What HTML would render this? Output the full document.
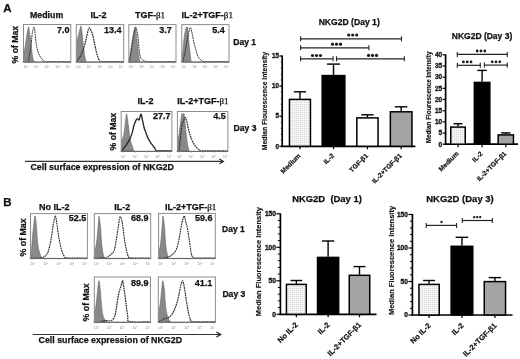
<!DOCTYPE html><html><head><meta charset="utf-8"><style>html,body{margin:0;padding:0;background:#fff;}svg{display:block;will-change:transform;}text{font-family:"Liberation Sans",sans-serif;}</style></head><body>
<svg width="520" height="359" viewBox="0 0 520 359">
<defs><pattern id="dots" width="2" height="2" patternUnits="userSpaceOnUse"><rect width="2" height="2" fill="#f5f5f5"/><rect width="1" height="1" fill="#d6d6d6"/></pattern></defs>
<g><rect width="520" height="359" fill="#fff"/>
<text x="3.2" y="12" font-size="11.5" font-weight="bold" text-anchor="start" fill="#111" stroke="#111" stroke-width="0.25">A</text>
<text x="3.2" y="206.3" font-size="11.5" font-weight="bold" text-anchor="start" fill="#111" stroke="#111" stroke-width="0.25">B</text>
<text x="30" y="17.9" font-size="8.8" font-weight="bold" text-anchor="start" fill="#111" stroke="#111" stroke-width="0.25">Medium</text>
<text x="90.5" y="17.9" font-size="9" font-weight="bold" text-anchor="start" fill="#111" stroke="#111" stroke-width="0.25">IL-2</text>
<text x="134.9" y="17.9" font-size="9" font-weight="bold" text-anchor="start" fill="#111" stroke="#111" stroke-width="0.25">TGF-<tspan font-family="'Liberation Serif', serif" font-weight="normal" font-size="9">β1</tspan></text>
<text x="181.6" y="17.9" font-size="9" font-weight="bold" text-anchor="start" fill="#111" stroke="#111" stroke-width="0.25">IL-2+TGF-<tspan font-family="'Liberation Serif', serif" font-weight="normal" font-size="9">β1</tspan></text>
<text transform="translate(18.3,63.5) rotate(-90)" font-size="8.7" font-weight="bold" fill="#111" stroke="#111" stroke-width="0.25">% of Max</text>
<clipPath id="c11"><rect x="23.5" y="24.5" width="47.3" height="37.7"/></clipPath>
<path clip-path="url(#c11)" d="M23.5,61.6 C23.5,60.8 23.2,59.5 23.5,56.83 C23.8,54.16 24.62,49.87 25.3,45.58 C25.98,41.29 27.03,34.2 27.6,31.09 C28.17,27.98 28.37,26.59 28.7,26.93 C29.03,27.27 29.27,30.95 29.6,33.11 C29.93,35.28 30.2,35.95 30.7,39.9 C31.2,43.86 32,53.21 32.6,56.83 C33.2,60.44 34.02,60.8 34.3,61.59 C34.58,62.39 34.3,61.6 34.3,61.6 Z" fill="#898989" stroke="#666" stroke-width="0.6"/>
<path clip-path="url(#c11)" d="M28.6,61.59 C28.7,60.8 28.82,59.5 29.2,56.83 C29.58,54.16 30.38,49.53 30.9,45.58 C31.42,41.63 31.9,35.95 32.3,33.11 C32.7,30.28 33.02,29.58 33.3,28.55 C33.58,27.52 33.78,26.93 34,26.93 C34.22,26.93 34.4,27.34 34.6,28.55 C34.8,29.77 34.88,31.39 35.2,34.23 C35.52,37.07 35.92,42.37 36.5,45.58 C37.08,48.79 37.87,51.32 38.7,53.48 C39.53,55.65 40.57,57.23 41.5,58.55 C42.43,59.87 43.38,60.88 44.3,61.39 C45.22,61.9 42.58,61.56 47,61.59 C51.42,61.63 66.83,61.59 70.8,61.59" fill="none" stroke="#282828" stroke-width="0.95" stroke-dasharray="1.8,0.7"/>
<rect x="23.5" y="24.5" width="47.3" height="37.7" fill="none" stroke="#8c8c8c" stroke-width="1"/>
<line x1="23.5" y1="62" x2="70.8" y2="62" stroke="#606060" stroke-width="1"/>
<text x="25.7" y="68.3" font-size="3.2" fill="#888" text-anchor="middle">10<tspan dy="-1.2" font-size="2.2">0</tspan></text>
<line x1="26.1" y1="62.2" x2="26.1" y2="63.4" stroke="#999" stroke-width="0.6"/>
<text x="36.33" y="68.3" font-size="3.2" fill="#888" text-anchor="middle">10<tspan dy="-1.2" font-size="2.2">1</tspan></text>
<line x1="36.73" y1="62.2" x2="36.73" y2="63.4" stroke="#999" stroke-width="0.6"/>
<text x="46.95" y="68.3" font-size="3.2" fill="#888" text-anchor="middle">10<tspan dy="-1.2" font-size="2.2">2</tspan></text>
<line x1="47.35" y1="62.2" x2="47.35" y2="63.4" stroke="#999" stroke-width="0.6"/>
<text x="57.58" y="68.3" font-size="3.2" fill="#888" text-anchor="middle">10<tspan dy="-1.2" font-size="2.2">3</tspan></text>
<line x1="57.98" y1="62.2" x2="57.98" y2="63.4" stroke="#999" stroke-width="0.6"/>
<text x="68.2" y="68.3" font-size="3.2" fill="#888" text-anchor="middle">10<tspan dy="-1.2" font-size="2.2">4</tspan></text>
<line x1="68.6" y1="62.2" x2="68.6" y2="63.4" stroke="#999" stroke-width="0.6"/>
<line x1="22" y1="61.7" x2="23" y2="61.7" stroke="#999" stroke-width="0.6"/>
<text x="69.4" y="32.9" font-size="9" font-weight="bold" text-anchor="end" fill="#111" stroke="#111" stroke-width="0.25">7.0</text>
<clipPath id="c28"><rect x="76.3" y="24.6" width="47.4" height="37.6"/></clipPath>
<path clip-path="url(#c28)" d="M76.3,61.6 C76.3,58.95 75.93,50.09 76.3,45.69 C76.67,41.29 77.83,38.14 78.5,35.2 C79.17,32.26 79.87,29.54 80.3,28.06 C80.73,26.59 80.78,25.3 81.1,26.33 C81.42,27.37 81.82,31.05 82.2,34.28 C82.58,37.51 82.97,42.09 83.4,45.69 C83.83,49.29 84.35,53.23 84.8,55.88 C85.25,58.53 85.88,60.64 86.1,61.59 C86.32,62.54 86.1,61.6 86.1,61.6 Z" fill="#898989" stroke="#666" stroke-width="0.6"/>
<path clip-path="url(#c28)" d="M76.7,60.67 C77.35,59.87 79.3,58.38 80.6,55.88 C81.9,53.39 83.48,48.9 84.5,45.69 C85.52,42.48 86.05,39.38 86.7,36.62 C87.35,33.87 87.93,30.61 88.4,29.19 C88.87,27.76 89.03,27.78 89.5,28.06 C89.97,28.35 90.65,29.68 91.2,30.92 C91.75,32.16 92.25,33.41 92.8,35.5 C93.35,37.59 93.93,40.8 94.5,43.45 C95.07,46.1 95.63,49.14 96.2,51.4 C96.77,53.66 97.25,55.34 97.9,57 C98.55,58.67 99.25,60.62 100.1,61.38 C100.95,62.15 99.07,61.55 103,61.59 C106.93,61.62 120.25,61.59 123.7,61.59" fill="none" stroke="#282828" stroke-width="1.2" stroke-dasharray="1.8,0.7"/>
<rect x="76.3" y="24.6" width="47.4" height="37.6" fill="none" stroke="#8c8c8c" stroke-width="1"/>
<line x1="76.3" y1="62" x2="123.7" y2="62" stroke="#606060" stroke-width="1"/>
<text x="78.5" y="68.3" font-size="3.2" fill="#888" text-anchor="middle">10<tspan dy="-1.2" font-size="2.2">0</tspan></text>
<line x1="78.9" y1="62.2" x2="78.9" y2="63.4" stroke="#999" stroke-width="0.6"/>
<text x="89.15" y="68.3" font-size="3.2" fill="#888" text-anchor="middle">10<tspan dy="-1.2" font-size="2.2">1</tspan></text>
<line x1="89.55" y1="62.2" x2="89.55" y2="63.4" stroke="#999" stroke-width="0.6"/>
<text x="99.8" y="68.3" font-size="3.2" fill="#888" text-anchor="middle">10<tspan dy="-1.2" font-size="2.2">2</tspan></text>
<line x1="100.2" y1="62.2" x2="100.2" y2="63.4" stroke="#999" stroke-width="0.6"/>
<text x="110.45" y="68.3" font-size="3.2" fill="#888" text-anchor="middle">10<tspan dy="-1.2" font-size="2.2">3</tspan></text>
<line x1="110.85" y1="62.2" x2="110.85" y2="63.4" stroke="#999" stroke-width="0.6"/>
<text x="121.1" y="68.3" font-size="3.2" fill="#888" text-anchor="middle">10<tspan dy="-1.2" font-size="2.2">4</tspan></text>
<line x1="121.5" y1="62.2" x2="121.5" y2="63.4" stroke="#999" stroke-width="0.6"/>
<line x1="74.8" y1="61.7" x2="75.8" y2="61.7" stroke="#999" stroke-width="0.6"/>
<text x="121.6" y="32.9" font-size="9" font-weight="bold" text-anchor="end" fill="#111" stroke="#111" stroke-width="0.25">13.4</text>
<clipPath id="c45"><rect x="128.8" y="24.6" width="47.2" height="37.6"/></clipPath>
<path clip-path="url(#c45)" d="M128.8,61.6 C128.8,61.45 128.63,61.44 128.8,60.67 C128.97,59.91 129.35,59.5 129.8,57 C130.25,54.51 130.83,49.84 131.5,45.69 C132.17,41.55 133.15,35.16 133.8,32.14 C134.45,29.12 134.87,26.25 135.4,27.56 C135.93,28.86 136.55,36.01 137,39.99 C137.45,43.96 137.63,47.8 138.1,51.4 C138.57,55 139.52,59.89 139.8,61.59 C140.08,63.29 139.8,61.6 139.8,61.6 Z" fill="#898989" stroke="#666" stroke-width="0.6"/>
<path clip-path="url(#c45)" d="M129.5,61.59 C129.78,59.74 130.53,54.88 131.2,50.48 C131.87,46.08 132.85,38.9 133.5,35.2 C134.15,31.5 134.7,29.59 135.1,28.27 C135.5,26.94 135.62,26.94 135.9,27.25 C136.18,27.56 136.43,28.35 136.8,30.1 C137.17,31.85 137.68,34.2 138.1,37.74 C138.52,41.29 138.83,47.99 139.3,51.4 C139.77,54.81 140.17,56.71 140.9,58.23 C141.63,59.74 142.3,59.91 143.7,60.47 C145.1,61.03 143.92,61.4 149.3,61.59 C154.68,61.78 171.55,61.59 176,61.59" fill="none" stroke="#282828" stroke-width="0.95" stroke-dasharray="1.8,0.7"/>
<rect x="128.8" y="24.6" width="47.2" height="37.6" fill="none" stroke="#8c8c8c" stroke-width="1"/>
<line x1="128.8" y1="62" x2="176" y2="62" stroke="#606060" stroke-width="1"/>
<text x="131" y="68.3" font-size="3.2" fill="#888" text-anchor="middle">10<tspan dy="-1.2" font-size="2.2">0</tspan></text>
<line x1="131.4" y1="62.2" x2="131.4" y2="63.4" stroke="#999" stroke-width="0.6"/>
<text x="141.6" y="68.3" font-size="3.2" fill="#888" text-anchor="middle">10<tspan dy="-1.2" font-size="2.2">1</tspan></text>
<line x1="142" y1="62.2" x2="142" y2="63.4" stroke="#999" stroke-width="0.6"/>
<text x="152.2" y="68.3" font-size="3.2" fill="#888" text-anchor="middle">10<tspan dy="-1.2" font-size="2.2">2</tspan></text>
<line x1="152.6" y1="62.2" x2="152.6" y2="63.4" stroke="#999" stroke-width="0.6"/>
<text x="162.8" y="68.3" font-size="3.2" fill="#888" text-anchor="middle">10<tspan dy="-1.2" font-size="2.2">3</tspan></text>
<line x1="163.2" y1="62.2" x2="163.2" y2="63.4" stroke="#999" stroke-width="0.6"/>
<text x="173.4" y="68.3" font-size="3.2" fill="#888" text-anchor="middle">10<tspan dy="-1.2" font-size="2.2">4</tspan></text>
<line x1="173.8" y1="62.2" x2="173.8" y2="63.4" stroke="#999" stroke-width="0.6"/>
<line x1="127.3" y1="61.7" x2="128.3" y2="61.7" stroke="#999" stroke-width="0.6"/>
<text x="171.8" y="32.9" font-size="9" font-weight="bold" text-anchor="end" fill="#111" stroke="#111" stroke-width="0.25">3.7</text>
<clipPath id="c62"><rect x="181.8" y="24.6" width="47.2" height="37.6"/></clipPath>
<path clip-path="url(#c62)" d="M181.8,61.6 C181.8,60.77 181.63,58.3 181.8,56.6 C181.97,54.9 182.45,54.17 182.8,51.4 C183.15,48.63 183.45,43.54 183.9,39.99 C184.35,36.44 185.03,32.28 185.5,30.1 C185.97,27.93 186.4,27.11 186.7,26.94 C187,26.77 187.12,28.98 187.3,29.08 C187.48,29.19 187.62,26.3 187.8,27.56 C187.98,28.81 188.12,33.23 188.4,36.62 C188.68,40.02 189.05,43.77 189.5,47.93 C189.95,52.1 190.83,59.31 191.1,61.59 C191.37,63.87 191.1,61.6 191.1,61.6 Z" fill="#898989" stroke="#666" stroke-width="0.6"/>
<path clip-path="url(#c62)" d="M183,61.59 C183.38,59.74 184.6,54.08 185.3,50.48 C186,46.88 186.6,43.06 187.2,39.99 C187.8,36.91 188.33,34.11 188.9,32.04 C189.47,29.97 190.03,27.18 190.6,27.56 C191.17,27.93 191.75,31.82 192.3,34.28 C192.85,36.74 193.35,39.87 193.9,42.33 C194.45,44.79 195.03,46.98 195.6,49.06 C196.17,51.13 196.65,53.15 197.3,54.76 C197.95,56.37 198.67,57.7 199.5,58.74 C200.33,59.77 201.37,60.5 202.3,60.98 C203.23,61.45 200.65,61.49 205.1,61.59 C209.55,61.69 225.02,61.59 229,61.59" fill="none" stroke="#282828" stroke-width="0.95" stroke-dasharray="1.8,0.7"/>
<rect x="181.8" y="24.6" width="47.2" height="37.6" fill="none" stroke="#8c8c8c" stroke-width="1"/>
<line x1="181.8" y1="62" x2="229" y2="62" stroke="#606060" stroke-width="1"/>
<text x="184" y="68.3" font-size="3.2" fill="#888" text-anchor="middle">10<tspan dy="-1.2" font-size="2.2">0</tspan></text>
<line x1="184.4" y1="62.2" x2="184.4" y2="63.4" stroke="#999" stroke-width="0.6"/>
<text x="194.6" y="68.3" font-size="3.2" fill="#888" text-anchor="middle">10<tspan dy="-1.2" font-size="2.2">1</tspan></text>
<line x1="195" y1="62.2" x2="195" y2="63.4" stroke="#999" stroke-width="0.6"/>
<text x="205.2" y="68.3" font-size="3.2" fill="#888" text-anchor="middle">10<tspan dy="-1.2" font-size="2.2">2</tspan></text>
<line x1="205.6" y1="62.2" x2="205.6" y2="63.4" stroke="#999" stroke-width="0.6"/>
<text x="215.8" y="68.3" font-size="3.2" fill="#888" text-anchor="middle">10<tspan dy="-1.2" font-size="2.2">3</tspan></text>
<line x1="216.2" y1="62.2" x2="216.2" y2="63.4" stroke="#999" stroke-width="0.6"/>
<text x="226.4" y="68.3" font-size="3.2" fill="#888" text-anchor="middle">10<tspan dy="-1.2" font-size="2.2">4</tspan></text>
<line x1="226.8" y1="62.2" x2="226.8" y2="63.4" stroke="#999" stroke-width="0.6"/>
<line x1="180.3" y1="61.7" x2="181.3" y2="61.7" stroke="#999" stroke-width="0.6"/>
<text x="224.8" y="32.9" font-size="9" font-weight="bold" text-anchor="end" fill="#111" stroke="#111" stroke-width="0.25">5.4</text>
<text x="233.2" y="45.1" font-size="8.6" font-weight="bold" text-anchor="start" fill="#111" stroke="#111" stroke-width="0.25">Day 1</text>
<text x="137.6" y="104.2" font-size="9" font-weight="bold" text-anchor="start" fill="#111" stroke="#111" stroke-width="0.25">IL-2</text>
<text x="177.2" y="104.2" font-size="9" font-weight="bold" text-anchor="start" fill="#111" stroke="#111" stroke-width="0.25">IL-2+TGF-<tspan font-family="'Liberation Serif', serif" font-weight="normal" font-size="9">β1</tspan></text>
<text transform="translate(115.6,150.5) rotate(-90)" font-size="8.7" font-weight="bold" fill="#111" stroke="#111" stroke-width="0.25">% of Max</text>
<clipPath id="c83"><rect x="121.2" y="111.5" width="50.7" height="40"/></clipPath>
<path clip-path="url(#c83)" d="M121.2,150.9 C121.2,149.49 120.8,145 121.2,142.46 C121.6,139.92 123,138.2 123.6,135.66 C124.2,133.12 124.42,130.16 124.8,127.24 C125.18,124.31 125.6,120.33 125.9,118.1 C126.2,115.87 126.28,113.33 126.6,113.84 C126.92,114.34 127.4,118.3 127.8,121.14 C128.2,123.99 128.6,127.85 129,130.89 C129.4,133.94 129.7,137 130.2,139.42 C130.7,141.84 131.4,143.5 132,145.41 C132.6,147.32 133.5,149.98 133.8,150.89 C134.1,151.81 133.8,150.9 133.8,150.9 Z" fill="#898989" stroke="#666" stroke-width="0.6"/>
<path clip-path="url(#c83)" d="M121.8,150.59 C122.5,149.72 124.7,147.27 126,145.41 C127.3,143.55 128.6,141.43 129.6,139.42 C130.6,137.41 131.3,135.56 132,133.33 C132.7,131.09 133.2,128.05 133.8,126.02 C134.4,123.99 135,122.36 135.6,121.14 C136.2,119.93 136.8,118.91 137.4,118.71 C138,118.51 138.7,120.54 139.2,119.93 C139.7,119.32 140.05,115.97 140.4,115.05 C140.75,114.14 141,113.84 141.3,114.44 C141.6,115.05 141.75,116.58 142.2,118.71 C142.65,120.84 143.42,125 144,127.24 C144.58,129.47 145.12,130.5 145.7,132.11 C146.28,133.72 146.9,135.48 147.5,136.88 C148.1,138.29 148.6,139.32 149.3,140.54 C150,141.75 150.8,142.97 151.7,144.19 C152.6,145.41 153.8,146.75 154.7,147.85 C155.6,148.95 154.23,150.28 157.1,150.79 C159.97,151.3 169.43,150.87 171.9,150.89" fill="none" stroke="#282828" stroke-width="1.35" stroke-dasharray="none"/>
<rect x="121.2" y="111.5" width="50.7" height="40" fill="none" stroke="#8c8c8c" stroke-width="1"/>
<line x1="121.2" y1="151.3" x2="171.9" y2="151.3" stroke="#606060" stroke-width="1"/>
<text x="123.4" y="157.6" font-size="3.2" fill="#888" text-anchor="middle">10<tspan dy="-1.2" font-size="2.2">0</tspan></text>
<line x1="123.8" y1="151.5" x2="123.8" y2="152.7" stroke="#999" stroke-width="0.6"/>
<text x="134.88" y="157.6" font-size="3.2" fill="#888" text-anchor="middle">10<tspan dy="-1.2" font-size="2.2">1</tspan></text>
<line x1="135.28" y1="151.5" x2="135.28" y2="152.7" stroke="#999" stroke-width="0.6"/>
<text x="146.35" y="157.6" font-size="3.2" fill="#888" text-anchor="middle">10<tspan dy="-1.2" font-size="2.2">2</tspan></text>
<line x1="146.75" y1="151.5" x2="146.75" y2="152.7" stroke="#999" stroke-width="0.6"/>
<text x="157.82" y="157.6" font-size="3.2" fill="#888" text-anchor="middle">10<tspan dy="-1.2" font-size="2.2">3</tspan></text>
<line x1="158.22" y1="151.5" x2="158.22" y2="152.7" stroke="#999" stroke-width="0.6"/>
<text x="169.3" y="157.6" font-size="3.2" fill="#888" text-anchor="middle">10<tspan dy="-1.2" font-size="2.2">4</tspan></text>
<line x1="169.7" y1="151.5" x2="169.7" y2="152.7" stroke="#999" stroke-width="0.6"/>
<line x1="119.7" y1="151" x2="120.7" y2="151" stroke="#999" stroke-width="0.6"/>
<text x="170.5" y="119.1" font-size="9" font-weight="bold" text-anchor="end" fill="#111" stroke="#111" stroke-width="0.25">27.7</text>
<clipPath id="c100"><rect x="177.4" y="111.5" width="50.5" height="40"/></clipPath>
<path clip-path="url(#c100)" d="M177.4,150.9 C177.4,149.53 177.1,145.6 177.4,142.7 C177.7,139.8 178.7,136.67 179.2,133.49 C179.7,130.32 180.02,126.57 180.4,123.67 C180.78,120.78 181.2,117.84 181.5,116.1 C181.8,114.36 181.93,113.24 182.2,113.24 C182.47,113.24 182.8,116.05 183.1,116.1 C183.4,116.15 183.65,112.28 184,113.55 C184.35,114.81 184.8,119.96 185.2,123.67 C185.6,127.39 186,132.39 186.4,135.85 C186.8,139.31 187.2,141.93 187.6,144.44 C188,146.95 188.6,149.81 188.8,150.89 C189,151.96 188.8,150.9 188.8,150.9 Z" fill="#898989" stroke="#666" stroke-width="0.6"/>
<path clip-path="url(#c100)" d="M179.2,149.86 C179.33,148.67 179.6,146.45 180,142.7 C180.4,138.95 181.03,130.94 181.6,127.36 C182.17,123.78 182.8,122.86 183.4,121.22 C184,119.58 184.7,117.74 185.2,117.54 C185.7,117.33 186,118.76 186.4,119.99 C186.8,121.22 187.2,123.16 187.6,124.9 C188,126.64 188.4,128.81 188.8,130.43 C189.2,132.05 189.5,133.09 190,134.62 C190.5,136.15 191.1,138 191.8,139.63 C192.5,141.27 193.3,143.03 194.2,144.44 C195.1,145.86 196.3,147.2 197.2,148.12 C198.1,149.04 198.72,149.51 199.6,149.97 C200.48,150.43 197.78,150.73 202.5,150.89 C207.22,151.04 223.67,150.89 227.9,150.89" fill="none" stroke="#282828" stroke-width="1.2" stroke-dasharray="1.8,0.7"/>
<rect x="177.4" y="111.5" width="50.5" height="40" fill="none" stroke="#8c8c8c" stroke-width="1"/>
<line x1="177.4" y1="151.3" x2="227.9" y2="151.3" stroke="#606060" stroke-width="1"/>
<text x="179.6" y="157.6" font-size="3.2" fill="#888" text-anchor="middle">10<tspan dy="-1.2" font-size="2.2">0</tspan></text>
<line x1="180" y1="151.5" x2="180" y2="152.7" stroke="#999" stroke-width="0.6"/>
<text x="191.03" y="157.6" font-size="3.2" fill="#888" text-anchor="middle">10<tspan dy="-1.2" font-size="2.2">1</tspan></text>
<line x1="191.43" y1="151.5" x2="191.43" y2="152.7" stroke="#999" stroke-width="0.6"/>
<text x="202.45" y="157.6" font-size="3.2" fill="#888" text-anchor="middle">10<tspan dy="-1.2" font-size="2.2">2</tspan></text>
<line x1="202.85" y1="151.5" x2="202.85" y2="152.7" stroke="#999" stroke-width="0.6"/>
<text x="213.88" y="157.6" font-size="3.2" fill="#888" text-anchor="middle">10<tspan dy="-1.2" font-size="2.2">3</tspan></text>
<line x1="214.28" y1="151.5" x2="214.28" y2="152.7" stroke="#999" stroke-width="0.6"/>
<text x="225.3" y="157.6" font-size="3.2" fill="#888" text-anchor="middle">10<tspan dy="-1.2" font-size="2.2">4</tspan></text>
<line x1="225.7" y1="151.5" x2="225.7" y2="152.7" stroke="#999" stroke-width="0.6"/>
<line x1="175.9" y1="151" x2="176.9" y2="151" stroke="#999" stroke-width="0.6"/>
<text x="225.8" y="119.1" font-size="9" font-weight="bold" text-anchor="end" fill="#111" stroke="#111" stroke-width="0.25">4.5</text>
<text x="233.5" y="130.8" font-size="8.6" font-weight="bold" text-anchor="start" fill="#111" stroke="#111" stroke-width="0.25">Day 3</text>
<line x1="25" y1="161.4" x2="223" y2="161.4" stroke="#333" stroke-width="1.1"/>
<path d="M219.4,159 L223.4,161.4 L219.4,163.8" fill="none" stroke="#222" stroke-width="1.2"/>
<text x="30.4" y="169.9" font-size="8.85" font-weight="bold" text-anchor="start" fill="#111" stroke="#111" stroke-width="0.25">Cell surface expression of NKG2D</text>
<text x="54.2" y="209.9" font-size="9" font-weight="bold" text-anchor="middle" fill="#111" stroke="#111" stroke-width="0.25">No IL-2</text>
<text x="122.2" y="209.9" font-size="9" font-weight="bold" text-anchor="middle" fill="#111" stroke="#111" stroke-width="0.25">IL-2</text>
<text x="164.9" y="209.6" font-size="9" font-weight="bold" text-anchor="start" fill="#111" stroke="#111" stroke-width="0.25">IL-2+TGF-<tspan font-family="'Liberation Serif', serif" font-weight="normal" font-size="9">β1</tspan></text>
<text transform="translate(26.2,256.5) rotate(-90)" font-size="8.8" font-weight="bold" fill="#111" stroke="#111" stroke-width="0.25">% of Max</text>
<clipPath id="c125"><rect x="30.5" y="213.6" width="56.9" height="45"/></clipPath>
<path clip-path="url(#c125)" d="M30.5,258 C30.5,257.36 30.35,255.35 30.5,254.18 C30.65,253.01 31.1,253.53 31.4,250.97 C31.7,248.4 31.92,243.06 32.3,238.81 C32.68,234.56 33.25,229.25 33.7,225.45 C34.15,221.65 34.55,216.01 35,216.01 C35.45,216.01 36.02,221.65 36.4,225.45 C36.78,229.25 36.97,235.01 37.3,238.81 C37.63,242.61 37.88,245.56 38.4,248.25 C38.92,250.95 39.85,253.36 40.4,254.98 C40.95,256.61 41.48,257.49 41.7,258 C41.92,258.5 41.7,258 41.7,258 Z" fill="#898989" stroke="#666" stroke-width="0.6"/>
<path clip-path="url(#c125)" d="M40,258 C40.83,257.71 43.6,257.46 45,256.29 C46.4,255.12 47.38,253.88 48.4,250.97 C49.42,248.05 50.32,243.06 51.1,238.81 C51.88,234.56 52.53,228.83 53.1,225.45 C53.67,222.07 54.13,220.15 54.5,218.52 C54.87,216.9 55.03,215.71 55.3,215.71 C55.57,215.71 55.8,216.9 56.1,218.52 C56.4,220.15 56.6,222.07 57.1,225.45 C57.6,228.83 58.32,234.56 59.1,238.81 C59.88,243.06 60.92,248.05 61.8,250.97 C62.68,253.88 63.52,255.13 64.4,256.29 C65.28,257.44 63.27,257.61 67.1,257.9 C70.93,258.18 84.02,257.98 87.4,258" fill="none" stroke="#282828" stroke-width="1.1" stroke-dasharray="1.8,0.7"/>
<rect x="30.5" y="213.6" width="56.9" height="45" fill="none" stroke="#8c8c8c" stroke-width="1"/>
<line x1="30.5" y1="258.4" x2="87.4" y2="258.4" stroke="#606060" stroke-width="1"/>
<text x="32.7" y="264.7" font-size="3.2" fill="#888" text-anchor="middle">10<tspan dy="-1.2" font-size="2.2">0</tspan></text>
<line x1="33.1" y1="258.6" x2="33.1" y2="259.8" stroke="#999" stroke-width="0.6"/>
<text x="45.73" y="264.7" font-size="3.2" fill="#888" text-anchor="middle">10<tspan dy="-1.2" font-size="2.2">1</tspan></text>
<line x1="46.12" y1="258.6" x2="46.12" y2="259.8" stroke="#999" stroke-width="0.6"/>
<text x="58.75" y="264.7" font-size="3.2" fill="#888" text-anchor="middle">10<tspan dy="-1.2" font-size="2.2">2</tspan></text>
<line x1="59.15" y1="258.6" x2="59.15" y2="259.8" stroke="#999" stroke-width="0.6"/>
<text x="71.78" y="264.7" font-size="3.2" fill="#888" text-anchor="middle">10<tspan dy="-1.2" font-size="2.2">3</tspan></text>
<line x1="72.18" y1="258.6" x2="72.18" y2="259.8" stroke="#999" stroke-width="0.6"/>
<text x="84.8" y="264.7" font-size="3.2" fill="#888" text-anchor="middle">10<tspan dy="-1.2" font-size="2.2">4</tspan></text>
<line x1="85.2" y1="258.6" x2="85.2" y2="259.8" stroke="#999" stroke-width="0.6"/>
<line x1="29" y1="258.1" x2="30" y2="258.1" stroke="#999" stroke-width="0.6"/>
<text x="86.3" y="221" font-size="9" font-weight="bold" text-anchor="end" fill="#111" stroke="#111" stroke-width="0.25">52.5</text>
<clipPath id="c142"><rect x="94.3" y="213.6" width="56.4" height="45"/></clipPath>
<path clip-path="url(#c142)" d="M94.3,258 C94.3,257.07 94.18,253.56 94.3,252.43 C94.42,251.3 94.55,253.46 95,251.22 C95.45,248.98 96.45,243.5 97,238.98 C97.55,234.47 97.97,227.89 98.3,224.12 C98.63,220.34 98.65,216.09 99,216.33 C99.35,216.57 100.02,221.76 100.4,225.53 C100.78,229.31 100.93,234.7 101.3,238.98 C101.67,243.26 102.08,248.05 102.6,251.22 C103.12,254.39 104.1,256.86 104.4,257.99 C104.7,259.12 104.4,258 104.4,258 Z" fill="#898989" stroke="#666" stroke-width="0.6"/>
<path clip-path="url(#c142)" d="M100,257.99 C101.07,257.96 104.9,258.14 106.4,257.79 C107.9,257.44 108.12,256.53 109,255.87 C109.88,255.21 110.8,254.86 111.7,253.85 C112.6,252.84 113.62,252.28 114.4,249.8 C115.18,247.32 115.78,242.59 116.4,238.98 C117.02,235.38 117.58,231.53 118.1,228.16 C118.62,224.79 119.12,220.66 119.5,218.76 C119.88,216.85 120.03,216.52 120.4,216.73 C120.77,216.95 121.25,218.17 121.7,220.07 C122.15,221.98 122.65,225.01 123.1,228.16 C123.55,231.31 123.85,235.38 124.4,238.98 C124.95,242.59 125.73,246.87 126.4,249.8 C127.07,252.73 127.62,255.23 128.4,256.58 C129.18,257.93 127.38,257.66 131.1,257.89 C134.82,258.13 147.43,257.98 150.7,257.99" fill="none" stroke="#282828" stroke-width="1.1" stroke-dasharray="1.8,0.7"/>
<rect x="94.3" y="213.6" width="56.4" height="45" fill="none" stroke="#8c8c8c" stroke-width="1"/>
<line x1="94.3" y1="258.4" x2="150.7" y2="258.4" stroke="#606060" stroke-width="1"/>
<text x="96.5" y="264.7" font-size="3.2" fill="#888" text-anchor="middle">10<tspan dy="-1.2" font-size="2.2">0</tspan></text>
<line x1="96.9" y1="258.6" x2="96.9" y2="259.8" stroke="#999" stroke-width="0.6"/>
<text x="109.4" y="264.7" font-size="3.2" fill="#888" text-anchor="middle">10<tspan dy="-1.2" font-size="2.2">1</tspan></text>
<line x1="109.8" y1="258.6" x2="109.8" y2="259.8" stroke="#999" stroke-width="0.6"/>
<text x="122.3" y="264.7" font-size="3.2" fill="#888" text-anchor="middle">10<tspan dy="-1.2" font-size="2.2">2</tspan></text>
<line x1="122.7" y1="258.6" x2="122.7" y2="259.8" stroke="#999" stroke-width="0.6"/>
<text x="135.2" y="264.7" font-size="3.2" fill="#888" text-anchor="middle">10<tspan dy="-1.2" font-size="2.2">3</tspan></text>
<line x1="135.6" y1="258.6" x2="135.6" y2="259.8" stroke="#999" stroke-width="0.6"/>
<text x="148.1" y="264.7" font-size="3.2" fill="#888" text-anchor="middle">10<tspan dy="-1.2" font-size="2.2">4</tspan></text>
<line x1="148.5" y1="258.6" x2="148.5" y2="259.8" stroke="#999" stroke-width="0.6"/>
<line x1="92.8" y1="258.1" x2="93.8" y2="258.1" stroke="#999" stroke-width="0.6"/>
<text x="148.5" y="221" font-size="9" font-weight="bold" text-anchor="end" fill="#111" stroke="#111" stroke-width="0.25">68.9</text>
<clipPath id="c159"><rect x="158.6" y="213.4" width="56.7" height="45.2"/></clipPath>
<path clip-path="url(#c159)" d="M158.6,258 C158.6,257.09 158.32,254.55 158.6,252.52 C158.88,250.49 159.78,249.21 160.3,245.83 C160.82,242.45 161.35,236.2 161.7,232.25 C162.05,228.3 162.18,224.82 162.4,222.12 C162.62,219.41 162.67,215.46 163,216.03 C163.33,216.61 164.02,221.73 164.4,225.56 C164.78,229.4 164.97,234.99 165.3,239.04 C165.63,243.09 165.88,246.71 166.4,249.88 C166.92,253.06 168.07,256.74 168.4,258.09 C168.73,259.45 168.4,258.02 168.4,258 Z" fill="#898989" stroke="#666" stroke-width="0.6"/>
<path clip-path="url(#c159)" d="M164.4,258.09 C165.17,257.86 167.57,257.37 169,256.67 C170.43,255.98 171.77,255.17 173,253.94 C174.23,252.71 175.38,251.76 176.4,249.28 C177.42,246.79 178.32,242.77 179.1,239.04 C179.88,235.31 180.43,230.26 181.1,226.88 C181.77,223.5 182.55,220.58 183.1,218.77 C183.65,216.96 183.97,215.58 184.4,216.03 C184.83,216.49 185.25,219.7 185.7,221.51 C186.15,223.31 186.53,223.96 187.1,226.88 C187.67,229.8 188.43,234.75 189.1,239.04 C189.77,243.33 190.55,249.68 191.1,252.62 C191.65,255.56 191.62,255.78 192.4,256.67 C193.18,257.57 191.98,257.76 195.8,257.99 C199.62,258.23 212.05,258.08 215.3,258.09" fill="none" stroke="#282828" stroke-width="1.1" stroke-dasharray="1.8,0.7"/>
<rect x="158.6" y="213.4" width="56.7" height="45.2" fill="none" stroke="#8c8c8c" stroke-width="1"/>
<line x1="158.6" y1="258.4" x2="215.3" y2="258.4" stroke="#606060" stroke-width="1"/>
<text x="160.8" y="264.7" font-size="3.2" fill="#888" text-anchor="middle">10<tspan dy="-1.2" font-size="2.2">0</tspan></text>
<line x1="161.2" y1="258.6" x2="161.2" y2="259.8" stroke="#999" stroke-width="0.6"/>
<text x="173.77" y="264.7" font-size="3.2" fill="#888" text-anchor="middle">10<tspan dy="-1.2" font-size="2.2">1</tspan></text>
<line x1="174.17" y1="258.6" x2="174.17" y2="259.8" stroke="#999" stroke-width="0.6"/>
<text x="186.75" y="264.7" font-size="3.2" fill="#888" text-anchor="middle">10<tspan dy="-1.2" font-size="2.2">2</tspan></text>
<line x1="187.15" y1="258.6" x2="187.15" y2="259.8" stroke="#999" stroke-width="0.6"/>
<text x="199.72" y="264.7" font-size="3.2" fill="#888" text-anchor="middle">10<tspan dy="-1.2" font-size="2.2">3</tspan></text>
<line x1="200.12" y1="258.6" x2="200.12" y2="259.8" stroke="#999" stroke-width="0.6"/>
<text x="212.7" y="264.7" font-size="3.2" fill="#888" text-anchor="middle">10<tspan dy="-1.2" font-size="2.2">4</tspan></text>
<line x1="213.1" y1="258.6" x2="213.1" y2="259.8" stroke="#999" stroke-width="0.6"/>
<line x1="157.1" y1="258.1" x2="158.1" y2="258.1" stroke="#999" stroke-width="0.6"/>
<text x="212.5" y="221" font-size="9" font-weight="bold" text-anchor="end" fill="#111" stroke="#111" stroke-width="0.25">59.6</text>
<text x="222.1" y="231.9" font-size="8.45" font-weight="bold" text-anchor="start" fill="#111" stroke="#111" stroke-width="0.25">Day 1</text>
<text transform="translate(89.1,321.5) rotate(-90)" font-size="8.8" font-weight="bold" fill="#111" stroke="#111" stroke-width="0.25">% of Max</text>
<clipPath id="c178"><rect x="94.3" y="277" width="56.2" height="45.4"/></clipPath>
<path clip-path="url(#c178)" d="M94.3,321.8 C94.3,320.54 94.18,316.04 94.3,314.25 C94.42,312.45 94.67,312.92 95,311.02 C95.33,309.13 95.85,306.46 96.3,302.87 C96.75,299.28 97.25,293.17 97.7,289.48 C98.15,285.79 98.55,280.51 99,280.72 C99.45,280.94 100.02,287.1 100.4,290.79 C100.78,294.48 100.93,299.06 101.3,302.87 C101.67,306.68 102.08,310.94 102.6,313.64 C103.12,316.34 103.77,317.72 104.4,319.08 C105.03,320.44 106.07,321.34 106.4,321.8 C106.73,322.25 106.4,321.8 106.4,321.8 Z" fill="#898989" stroke="#666" stroke-width="0.6"/>
<path clip-path="url(#c178)" d="M101,321.59 C101.67,321.43 103.43,320.71 105,320.59 C106.57,320.47 108.95,321.26 110.4,320.89 C111.85,320.52 112.82,319.8 113.7,318.37 C114.58,316.95 115.13,314.92 115.7,312.33 C116.27,309.75 116.6,306.01 117.1,302.87 C117.6,299.73 118.15,295.98 118.7,293.51 C119.25,291.04 119.83,289.99 120.4,288.07 C120.97,286.16 121.72,283.26 122.1,282.03 C122.48,280.81 122.43,279.94 122.7,280.72 C122.97,281.51 123.3,284.18 123.7,286.76 C124.1,289.35 124.65,292.87 125.1,296.23 C125.55,299.58 125.95,303.54 126.4,306.9 C126.85,310.25 127.23,313.91 127.8,316.36 C128.37,318.81 126.02,320.69 129.8,321.59 C133.58,322.5 147.05,321.76 150.5,321.8" fill="none" stroke="#282828" stroke-width="1.2" stroke-dasharray="1.8,0.7"/>
<rect x="94.3" y="277" width="56.2" height="45.4" fill="none" stroke="#8c8c8c" stroke-width="1"/>
<line x1="94.3" y1="322.2" x2="150.5" y2="322.2" stroke="#606060" stroke-width="1"/>
<text x="96.5" y="328.5" font-size="3.2" fill="#888" text-anchor="middle">10<tspan dy="-1.2" font-size="2.2">0</tspan></text>
<line x1="96.9" y1="322.4" x2="96.9" y2="323.6" stroke="#999" stroke-width="0.6"/>
<text x="109.35" y="328.5" font-size="3.2" fill="#888" text-anchor="middle">10<tspan dy="-1.2" font-size="2.2">1</tspan></text>
<line x1="109.75" y1="322.4" x2="109.75" y2="323.6" stroke="#999" stroke-width="0.6"/>
<text x="122.2" y="328.5" font-size="3.2" fill="#888" text-anchor="middle">10<tspan dy="-1.2" font-size="2.2">2</tspan></text>
<line x1="122.6" y1="322.4" x2="122.6" y2="323.6" stroke="#999" stroke-width="0.6"/>
<text x="135.05" y="328.5" font-size="3.2" fill="#888" text-anchor="middle">10<tspan dy="-1.2" font-size="2.2">3</tspan></text>
<line x1="135.45" y1="322.4" x2="135.45" y2="323.6" stroke="#999" stroke-width="0.6"/>
<text x="147.9" y="328.5" font-size="3.2" fill="#888" text-anchor="middle">10<tspan dy="-1.2" font-size="2.2">4</tspan></text>
<line x1="148.3" y1="322.4" x2="148.3" y2="323.6" stroke="#999" stroke-width="0.6"/>
<line x1="92.8" y1="321.9" x2="93.8" y2="321.9" stroke="#999" stroke-width="0.6"/>
<text x="148.6" y="285.6" font-size="9" font-weight="bold" text-anchor="end" fill="#111" stroke="#111" stroke-width="0.25">89.9</text>
<clipPath id="c195"><rect x="158.3" y="277" width="57.1" height="45.4"/></clipPath>
<path clip-path="url(#c195)" d="M158.3,321.8 C158.3,320.22 158.18,314.23 158.3,312.31 C158.42,310.39 158.67,311.86 159,310.29 C159.33,308.73 159.85,306.39 160.3,302.93 C160.75,299.46 161.3,293.21 161.7,289.51 C162.1,285.81 162.25,280.73 162.7,280.73 C163.15,280.73 163.97,285.81 164.4,289.51 C164.83,293.21 164.93,299.11 165.3,302.93 C165.67,306.75 166.08,309.82 166.6,312.41 C167.12,315 167.77,316.88 168.4,318.47 C169.03,320.05 170.07,321.34 170.4,321.9 C170.73,322.45 170.4,321.82 170.4,321.8 Z" fill="#898989" stroke="#666" stroke-width="0.6"/>
<path clip-path="url(#c195)" d="M158.8,321.69 C159.17,321.49 159.97,321.02 161,320.48 C162.03,319.95 163.67,319.02 165,318.47 C166.33,317.91 167.77,317.94 169,317.15 C170.23,316.36 171.4,315.19 172.4,313.72 C173.4,312.26 174.12,310.61 175,308.38 C175.88,306.14 176.92,303.23 177.7,300.31 C178.48,297.38 179.13,293.53 179.7,290.82 C180.27,288.11 180.65,285.74 181.1,284.06 C181.55,282.38 181.97,280.73 182.4,280.73 C182.83,280.73 183.25,282.16 183.7,284.06 C184.15,285.96 184.6,288.99 185.1,292.13 C185.6,295.28 186.15,299.55 186.7,302.93 C187.25,306.31 187.78,309.7 188.4,312.41 C189.02,315.12 189.62,317.62 190.4,319.17 C191.18,320.72 188.93,321.26 193.1,321.69 C197.27,322.13 211.68,321.78 215.4,321.79" fill="none" stroke="#282828" stroke-width="1.15" stroke-dasharray="1.8,0.7"/>
<rect x="158.3" y="277" width="57.1" height="45.4" fill="none" stroke="#8c8c8c" stroke-width="1"/>
<line x1="158.3" y1="322.2" x2="215.4" y2="322.2" stroke="#606060" stroke-width="1"/>
<text x="160.5" y="328.5" font-size="3.2" fill="#888" text-anchor="middle">10<tspan dy="-1.2" font-size="2.2">0</tspan></text>
<line x1="160.9" y1="322.4" x2="160.9" y2="323.6" stroke="#999" stroke-width="0.6"/>
<text x="173.57" y="328.5" font-size="3.2" fill="#888" text-anchor="middle">10<tspan dy="-1.2" font-size="2.2">1</tspan></text>
<line x1="173.97" y1="322.4" x2="173.97" y2="323.6" stroke="#999" stroke-width="0.6"/>
<text x="186.65" y="328.5" font-size="3.2" fill="#888" text-anchor="middle">10<tspan dy="-1.2" font-size="2.2">2</tspan></text>
<line x1="187.05" y1="322.4" x2="187.05" y2="323.6" stroke="#999" stroke-width="0.6"/>
<text x="199.72" y="328.5" font-size="3.2" fill="#888" text-anchor="middle">10<tspan dy="-1.2" font-size="2.2">3</tspan></text>
<line x1="200.12" y1="322.4" x2="200.12" y2="323.6" stroke="#999" stroke-width="0.6"/>
<text x="212.8" y="328.5" font-size="3.2" fill="#888" text-anchor="middle">10<tspan dy="-1.2" font-size="2.2">4</tspan></text>
<line x1="213.2" y1="322.4" x2="213.2" y2="323.6" stroke="#999" stroke-width="0.6"/>
<line x1="156.8" y1="321.9" x2="157.8" y2="321.9" stroke="#999" stroke-width="0.6"/>
<text x="212.2" y="285.6" font-size="9" font-weight="bold" text-anchor="end" fill="#111" stroke="#111" stroke-width="0.25">41.1</text>
<text x="222.4" y="296.6" font-size="8.6" font-weight="bold" text-anchor="start" fill="#111" stroke="#111" stroke-width="0.25">Day 3</text>
<line x1="32.7" y1="334.5" x2="220.3" y2="334.5" stroke="#333" stroke-width="1.1"/>
<path d="M216.4,332.1 L220.7,334.5 L216.4,336.9" fill="none" stroke="#222" stroke-width="1.2"/>
<text x="38.5" y="343.1" font-size="8.85" font-weight="bold" text-anchor="start" fill="#111" stroke="#111" stroke-width="0.25">Cell surface expression of NKG2D</text>
<line x1="282.2" y1="55.5" x2="282.2" y2="147.15" stroke="#000" stroke-width="1.7"/>
<line x1="281.35" y1="146.3" x2="415.4" y2="146.3" stroke="#000" stroke-width="1.7"/>
<line x1="279.4" y1="146.3" x2="282.2" y2="146.3" stroke="#000" stroke-width="1.2"/>
<text x="279.1" y="148.57" font-size="6.3" font-weight="bold" text-anchor="end" fill="#111" stroke="#111" stroke-width="0.3">0</text>
<line x1="279.4" y1="116.2" x2="282.2" y2="116.2" stroke="#000" stroke-width="1.2"/>
<text x="279.1" y="118.47" font-size="6.3" font-weight="bold" text-anchor="end" fill="#111" stroke="#111" stroke-width="0.3">5</text>
<line x1="279.4" y1="86.1" x2="282.2" y2="86.1" stroke="#000" stroke-width="1.2"/>
<text x="279.1" y="88.37" font-size="6.3" font-weight="bold" text-anchor="end" fill="#111" stroke="#111" stroke-width="0.3">10</text>
<line x1="279.4" y1="56" x2="282.2" y2="56" stroke="#000" stroke-width="1.2"/>
<text x="279.1" y="58.27" font-size="6.3" font-weight="bold" text-anchor="end" fill="#111" stroke="#111" stroke-width="0.3">15</text>
<line x1="280.9" y1="140.28" x2="282.2" y2="140.28" stroke="#000" stroke-width="1"/>
<line x1="280.9" y1="134.26" x2="282.2" y2="134.26" stroke="#000" stroke-width="1"/>
<line x1="280.9" y1="128.24" x2="282.2" y2="128.24" stroke="#000" stroke-width="1"/>
<line x1="280.9" y1="122.22" x2="282.2" y2="122.22" stroke="#000" stroke-width="1"/>
<line x1="280.9" y1="110.18" x2="282.2" y2="110.18" stroke="#000" stroke-width="1"/>
<line x1="280.9" y1="104.16" x2="282.2" y2="104.16" stroke="#000" stroke-width="1"/>
<line x1="280.9" y1="98.14" x2="282.2" y2="98.14" stroke="#000" stroke-width="1"/>
<line x1="280.9" y1="92.12" x2="282.2" y2="92.12" stroke="#000" stroke-width="1"/>
<line x1="280.9" y1="80.08" x2="282.2" y2="80.08" stroke="#000" stroke-width="1"/>
<line x1="280.9" y1="74.06" x2="282.2" y2="74.06" stroke="#000" stroke-width="1"/>
<line x1="280.9" y1="68.04" x2="282.2" y2="68.04" stroke="#000" stroke-width="1"/>
<line x1="280.9" y1="62.02" x2="282.2" y2="62.02" stroke="#000" stroke-width="1"/>
<line x1="299.95" y1="98.8" x2="299.95" y2="91.8" stroke="#000" stroke-width="1.4"/>
<line x1="293.82" y1="91.8" x2="306.07" y2="91.8" stroke="#000" stroke-width="1.4"/>
<rect x="289.45" y="99.4" width="21" height="46.9" fill="url(#dots)" stroke="#000" stroke-width="1.5"/>
<line x1="299.95" y1="146.3" x2="299.95" y2="149.3" stroke="#000" stroke-width="1.2"/>
<line x1="333.5" y1="75" x2="333.5" y2="64.1" stroke="#000" stroke-width="1.4"/>
<line x1="326.95" y1="64.1" x2="340.05" y2="64.1" stroke="#000" stroke-width="1.4"/>
<rect x="322.15" y="75.6" width="22.7" height="70.7" fill="#000" stroke="#000" stroke-width="1.5"/>
<line x1="333.5" y1="146.3" x2="333.5" y2="149.3" stroke="#000" stroke-width="1.2"/>
<line x1="367.45" y1="117.3" x2="367.45" y2="114.8" stroke="#000" stroke-width="1.4"/>
<line x1="361.28" y1="114.8" x2="373.63" y2="114.8" stroke="#000" stroke-width="1.4"/>
<rect x="356.85" y="117.9" width="21.2" height="28.4" fill="#fff" stroke="#000" stroke-width="1.5"/>
<line x1="367.45" y1="146.3" x2="367.45" y2="149.3" stroke="#000" stroke-width="1.2"/>
<line x1="401.15" y1="111.2" x2="401.15" y2="106.8" stroke="#000" stroke-width="1.4"/>
<line x1="394.88" y1="106.8" x2="407.42" y2="106.8" stroke="#000" stroke-width="1.4"/>
<rect x="390.35" y="111.8" width="21.6" height="34.5" fill="#a4a4a4" stroke="#000" stroke-width="1.5"/>
<line x1="401.15" y1="146.3" x2="401.15" y2="149.3" stroke="#000" stroke-width="1.2"/>
<text transform="translate(267.2,101.1) rotate(-90)" font-size="6.75" font-weight="bold" fill="#111" stroke="#111" stroke-width="0.15" text-anchor="middle">Median Flourescence Intensity</text>
<text x="349.2" y="25" font-size="8.6" font-weight="bold" text-anchor="middle" fill="#111" stroke="#111" stroke-width="0.25">NKG2D (Day 1)</text>
<text transform="translate(301.05,156.2) rotate(-45)" font-size="6.65" font-weight="bold" fill="#111" stroke="#111" stroke-width="0.2" text-anchor="end">Medium</text>
<text transform="translate(334.6,156.2) rotate(-45)" font-size="6.65" font-weight="bold" fill="#111" stroke="#111" stroke-width="0.2" text-anchor="end">IL-2</text>
<text transform="translate(368.55,156.2) rotate(-45)" font-size="6.65" font-weight="bold" fill="#111" stroke="#111" stroke-width="0.2" text-anchor="end">TGF-β1</text>
<text transform="translate(402.25,156.2) rotate(-45)" font-size="6.65" font-weight="bold" fill="#111" stroke="#111" stroke-width="0.2" text-anchor="end">IL-2+TGF-β1</text>
<line x1="300.6" y1="38.8" x2="401.5" y2="38.8" stroke="#222" stroke-width="1.2"/>
<line x1="300.6" y1="36.3" x2="300.6" y2="41.3" stroke="#222" stroke-width="1.1"/>
<line x1="401.5" y1="36.3" x2="401.5" y2="41.3" stroke="#222" stroke-width="1.1"/>
<circle cx="348.7" cy="35" r="1.6" fill="#1a1a1a"/>
<circle cx="352.7" cy="35" r="1.6" fill="#1a1a1a"/>
<circle cx="356.7" cy="35" r="1.6" fill="#1a1a1a"/>
<line x1="300.6" y1="47.8" x2="368.9" y2="47.8" stroke="#222" stroke-width="1.2"/>
<line x1="300.6" y1="45.3" x2="300.6" y2="50.3" stroke="#222" stroke-width="1.1"/>
<line x1="368.9" y1="45.3" x2="368.9" y2="50.3" stroke="#222" stroke-width="1.1"/>
<circle cx="332.5" cy="44.2" r="1.6" fill="#1a1a1a"/>
<circle cx="336.5" cy="44.2" r="1.6" fill="#1a1a1a"/>
<circle cx="340.5" cy="44.2" r="1.6" fill="#1a1a1a"/>
<line x1="300.6" y1="58.8" x2="333.1" y2="58.8" stroke="#222" stroke-width="1.2"/>
<line x1="300.6" y1="56.3" x2="300.6" y2="61.3" stroke="#222" stroke-width="1.1"/>
<line x1="333.1" y1="56.3" x2="333.1" y2="61.3" stroke="#222" stroke-width="1.1"/>
<circle cx="312.5" cy="55.5" r="1.6" fill="#1a1a1a"/>
<circle cx="316.5" cy="55.5" r="1.6" fill="#1a1a1a"/>
<circle cx="320.5" cy="55.5" r="1.6" fill="#1a1a1a"/>
<line x1="336.5" y1="58.8" x2="404.3" y2="58.8" stroke="#222" stroke-width="1.2"/>
<line x1="336.5" y1="56.3" x2="336.5" y2="61.3" stroke="#222" stroke-width="1.1"/>
<line x1="404.3" y1="56.3" x2="404.3" y2="61.3" stroke="#222" stroke-width="1.1"/>
<circle cx="368.5" cy="55.4" r="1.6" fill="#1a1a1a"/>
<circle cx="372.5" cy="55.4" r="1.6" fill="#1a1a1a"/>
<circle cx="376.5" cy="55.4" r="1.6" fill="#1a1a1a"/>
<line x1="445.6" y1="54.3" x2="445.6" y2="145.05" stroke="#000" stroke-width="1.7"/>
<line x1="444.75" y1="144.2" x2="518" y2="144.2" stroke="#000" stroke-width="1.7"/>
<line x1="442.6" y1="144.2" x2="445.6" y2="144.2" stroke="#000" stroke-width="1.2"/>
<text x="442.2" y="146.54" font-size="6.5" font-weight="bold" text-anchor="end" fill="#111" stroke="#111" stroke-width="0.3">0</text>
<line x1="442.6" y1="133.02" x2="445.6" y2="133.02" stroke="#000" stroke-width="1.2"/>
<text x="442.2" y="135.36" font-size="6.5" font-weight="bold" text-anchor="end" fill="#111" stroke="#111" stroke-width="0.3">5</text>
<line x1="442.6" y1="121.85" x2="445.6" y2="121.85" stroke="#000" stroke-width="1.2"/>
<text x="442.2" y="124.19" font-size="6.5" font-weight="bold" text-anchor="end" fill="#111" stroke="#111" stroke-width="0.3">10</text>
<line x1="442.6" y1="110.67" x2="445.6" y2="110.67" stroke="#000" stroke-width="1.2"/>
<text x="442.2" y="113.01" font-size="6.5" font-weight="bold" text-anchor="end" fill="#111" stroke="#111" stroke-width="0.3">15</text>
<line x1="442.6" y1="99.5" x2="445.6" y2="99.5" stroke="#000" stroke-width="1.2"/>
<text x="442.2" y="101.84" font-size="6.5" font-weight="bold" text-anchor="end" fill="#111" stroke="#111" stroke-width="0.3">20</text>
<line x1="442.6" y1="88.32" x2="445.6" y2="88.32" stroke="#000" stroke-width="1.2"/>
<text x="442.2" y="90.66" font-size="6.5" font-weight="bold" text-anchor="end" fill="#111" stroke="#111" stroke-width="0.3">25</text>
<line x1="442.6" y1="77.15" x2="445.6" y2="77.15" stroke="#000" stroke-width="1.2"/>
<text x="442.2" y="79.49" font-size="6.5" font-weight="bold" text-anchor="end" fill="#111" stroke="#111" stroke-width="0.3">30</text>
<line x1="442.6" y1="65.97" x2="445.6" y2="65.97" stroke="#000" stroke-width="1.2"/>
<text x="442.2" y="68.31" font-size="6.5" font-weight="bold" text-anchor="end" fill="#111" stroke="#111" stroke-width="0.3">35</text>
<line x1="442.6" y1="54.8" x2="445.6" y2="54.8" stroke="#000" stroke-width="1.2"/>
<text x="442.2" y="57.14" font-size="6.5" font-weight="bold" text-anchor="end" fill="#111" stroke="#111" stroke-width="0.3">40</text>
<line x1="458" y1="126.5" x2="458" y2="123.7" stroke="#000" stroke-width="1.4"/>
<line x1="453.5" y1="123.7" x2="462.5" y2="123.7" stroke="#000" stroke-width="1.4"/>
<rect x="450.75" y="127.1" width="14.5" height="17.1" fill="url(#dots)" stroke="#000" stroke-width="1.5"/>
<line x1="458" y1="144.2" x2="458" y2="147.2" stroke="#000" stroke-width="1.2"/>
<line x1="482.1" y1="81.8" x2="482.1" y2="70.4" stroke="#000" stroke-width="1.4"/>
<line x1="477.35" y1="70.4" x2="486.85" y2="70.4" stroke="#000" stroke-width="1.4"/>
<rect x="474.35" y="82.4" width="15.5" height="61.8" fill="#000" stroke="#000" stroke-width="1.5"/>
<line x1="482.1" y1="144.2" x2="482.1" y2="147.2" stroke="#000" stroke-width="1.2"/>
<line x1="505.8" y1="134.3" x2="505.8" y2="132.9" stroke="#000" stroke-width="1.4"/>
<line x1="501.1" y1="132.9" x2="510.5" y2="132.9" stroke="#000" stroke-width="1.4"/>
<rect x="498.15" y="134.9" width="15.3" height="9.3" fill="#a4a4a4" stroke="#000" stroke-width="1.5"/>
<line x1="505.8" y1="144.2" x2="505.8" y2="147.2" stroke="#000" stroke-width="1.2"/>
<text transform="translate(430.8,97.4) rotate(-90)" font-size="6.3" font-weight="bold" fill="#111" stroke="#111" stroke-width="0.15" text-anchor="middle">Median Flourescence Intensity</text>
<text x="482" y="39" font-size="8.5" font-weight="bold" text-anchor="middle" fill="#111" stroke="#111" stroke-width="0.25">NKG2D (Day 3)</text>
<text transform="translate(459.1,154.1) rotate(-45)" font-size="6.65" font-weight="bold" fill="#111" stroke="#111" stroke-width="0.2" text-anchor="end">Medium</text>
<text transform="translate(483.2,154.1) rotate(-45)" font-size="6.65" font-weight="bold" fill="#111" stroke="#111" stroke-width="0.2" text-anchor="end">IL-2</text>
<text transform="translate(506.9,154.1) rotate(-45)" font-size="6.65" font-weight="bold" fill="#111" stroke="#111" stroke-width="0.2" text-anchor="end">IL-2+TGF-β1</text>
<line x1="457.3" y1="54.4" x2="507.3" y2="54.4" stroke="#222" stroke-width="1.2"/>
<line x1="457.3" y1="51.9" x2="457.3" y2="56.9" stroke="#222" stroke-width="1.1"/>
<line x1="507.3" y1="51.9" x2="507.3" y2="56.9" stroke="#222" stroke-width="1.1"/>
<circle cx="477.2" cy="51" r="1.4" fill="#1a1a1a"/>
<circle cx="481" cy="51" r="1.4" fill="#1a1a1a"/>
<circle cx="484.8" cy="51" r="1.4" fill="#1a1a1a"/>
<line x1="457.3" y1="65.3" x2="480.3" y2="65.3" stroke="#222" stroke-width="1.2"/>
<line x1="457.3" y1="62.8" x2="457.3" y2="67.8" stroke="#222" stroke-width="1.1"/>
<line x1="480.3" y1="62.8" x2="480.3" y2="67.8" stroke="#222" stroke-width="1.1"/>
<circle cx="463.4" cy="61.9" r="1.4" fill="#1a1a1a"/>
<circle cx="467.2" cy="61.9" r="1.4" fill="#1a1a1a"/>
<circle cx="471" cy="61.9" r="1.4" fill="#1a1a1a"/>
<line x1="484.4" y1="65.1" x2="507.3" y2="65.1" stroke="#222" stroke-width="1.2"/>
<line x1="484.4" y1="62.6" x2="484.4" y2="67.6" stroke="#222" stroke-width="1.1"/>
<line x1="507.3" y1="62.6" x2="507.3" y2="67.6" stroke="#222" stroke-width="1.1"/>
<circle cx="492.2" cy="61.8" r="1.4" fill="#1a1a1a"/>
<circle cx="496" cy="61.8" r="1.4" fill="#1a1a1a"/>
<circle cx="499.8" cy="61.8" r="1.4" fill="#1a1a1a"/>
<line x1="280.4" y1="213.3" x2="280.4" y2="315.15" stroke="#000" stroke-width="1.7"/>
<line x1="279.55" y1="314.3" x2="376.5" y2="314.3" stroke="#000" stroke-width="1.7"/>
<line x1="276.4" y1="314.3" x2="280.4" y2="314.3" stroke="#000" stroke-width="1.2"/>
<text x="275.9" y="316.68" font-size="6.6" font-weight="bold" text-anchor="end" fill="#111" stroke="#111" stroke-width="0.3">0</text>
<line x1="276.4" y1="280.8" x2="280.4" y2="280.8" stroke="#000" stroke-width="1.2"/>
<text x="275.9" y="283.18" font-size="6.6" font-weight="bold" text-anchor="end" fill="#111" stroke="#111" stroke-width="0.3">50</text>
<line x1="276.4" y1="247.3" x2="280.4" y2="247.3" stroke="#000" stroke-width="1.2"/>
<text x="275.9" y="249.68" font-size="6.6" font-weight="bold" text-anchor="end" fill="#111" stroke="#111" stroke-width="0.3">100</text>
<line x1="276.4" y1="213.8" x2="280.4" y2="213.8" stroke="#000" stroke-width="1.2"/>
<text x="275.9" y="216.18" font-size="6.6" font-weight="bold" text-anchor="end" fill="#111" stroke="#111" stroke-width="0.3">150</text>
<line x1="277.9" y1="307.6" x2="280.4" y2="307.6" stroke="#000" stroke-width="1"/>
<line x1="277.9" y1="300.9" x2="280.4" y2="300.9" stroke="#000" stroke-width="1"/>
<line x1="277.9" y1="294.2" x2="280.4" y2="294.2" stroke="#000" stroke-width="1"/>
<line x1="277.9" y1="287.5" x2="280.4" y2="287.5" stroke="#000" stroke-width="1"/>
<line x1="277.9" y1="274.1" x2="280.4" y2="274.1" stroke="#000" stroke-width="1"/>
<line x1="277.9" y1="267.4" x2="280.4" y2="267.4" stroke="#000" stroke-width="1"/>
<line x1="277.9" y1="260.7" x2="280.4" y2="260.7" stroke="#000" stroke-width="1"/>
<line x1="277.9" y1="254" x2="280.4" y2="254" stroke="#000" stroke-width="1"/>
<line x1="277.9" y1="240.6" x2="280.4" y2="240.6" stroke="#000" stroke-width="1"/>
<line x1="277.9" y1="233.9" x2="280.4" y2="233.9" stroke="#000" stroke-width="1"/>
<line x1="277.9" y1="227.2" x2="280.4" y2="227.2" stroke="#000" stroke-width="1"/>
<line x1="277.9" y1="220.5" x2="280.4" y2="220.5" stroke="#000" stroke-width="1"/>
<line x1="296.35" y1="283.8" x2="296.35" y2="280.5" stroke="#000" stroke-width="1.4"/>
<line x1="290.53" y1="280.5" x2="302.18" y2="280.5" stroke="#000" stroke-width="1.4"/>
<rect x="286.45" y="284.4" width="19.8" height="29.9" fill="url(#dots)" stroke="#000" stroke-width="1.5"/>
<line x1="296.35" y1="314.3" x2="296.35" y2="317.3" stroke="#000" stroke-width="1.2"/>
<line x1="328.1" y1="256.8" x2="328.1" y2="241" stroke="#000" stroke-width="1.4"/>
<line x1="321.95" y1="241" x2="334.25" y2="241" stroke="#000" stroke-width="1.4"/>
<rect x="317.55" y="257.4" width="21.1" height="56.9" fill="#000" stroke="#000" stroke-width="1.5"/>
<line x1="328.1" y1="314.3" x2="328.1" y2="317.3" stroke="#000" stroke-width="1.2"/>
<line x1="359.5" y1="274.7" x2="359.5" y2="266.6" stroke="#000" stroke-width="1.4"/>
<line x1="353.5" y1="266.6" x2="365.5" y2="266.6" stroke="#000" stroke-width="1.4"/>
<rect x="349.25" y="275.3" width="20.5" height="39" fill="#a4a4a4" stroke="#000" stroke-width="1.5"/>
<line x1="359.5" y1="314.3" x2="359.5" y2="317.3" stroke="#000" stroke-width="1.2"/>
<text transform="translate(260.9,261.6) rotate(-90)" font-size="7.5" font-weight="bold" fill="#111" stroke="#111" stroke-width="0.15" text-anchor="middle">Median Fluorescence Intensity</text>
<text x="327" y="202.2" font-size="9.45" font-weight="bold" text-anchor="middle" fill="#111" stroke="#111" stroke-width="0.25">NKG2D&#160; (Day 1)</text>
<text transform="translate(298.55,325.3) rotate(-45)" font-size="7.5" font-weight="bold" fill="#111" stroke="#111" stroke-width="0.2" text-anchor="end">No IL-2</text>
<text transform="translate(330.3,325.3) rotate(-45)" font-size="7.5" font-weight="bold" fill="#111" stroke="#111" stroke-width="0.2" text-anchor="end">IL-2</text>
<text transform="translate(361.7,325.3) rotate(-45)" font-size="7.5" font-weight="bold" fill="#111" stroke="#111" stroke-width="0.2" text-anchor="end">IL-2+TGF-β1</text>
<line x1="412.4" y1="214" x2="412.4" y2="315.85" stroke="#000" stroke-width="1.7"/>
<line x1="411.55" y1="315" x2="512.5" y2="315" stroke="#000" stroke-width="1.7"/>
<line x1="408.4" y1="315" x2="412.4" y2="315" stroke="#000" stroke-width="1.2"/>
<text x="407.9" y="317.38" font-size="6.6" font-weight="bold" text-anchor="end" fill="#111" stroke="#111" stroke-width="0.3">0</text>
<line x1="408.4" y1="281.5" x2="412.4" y2="281.5" stroke="#000" stroke-width="1.2"/>
<text x="407.9" y="283.88" font-size="6.6" font-weight="bold" text-anchor="end" fill="#111" stroke="#111" stroke-width="0.3">50</text>
<line x1="408.4" y1="248" x2="412.4" y2="248" stroke="#000" stroke-width="1.2"/>
<text x="407.9" y="250.38" font-size="6.6" font-weight="bold" text-anchor="end" fill="#111" stroke="#111" stroke-width="0.3">100</text>
<line x1="408.4" y1="214.5" x2="412.4" y2="214.5" stroke="#000" stroke-width="1.2"/>
<text x="407.9" y="216.88" font-size="6.6" font-weight="bold" text-anchor="end" fill="#111" stroke="#111" stroke-width="0.3">150</text>
<line x1="409.9" y1="308.3" x2="412.4" y2="308.3" stroke="#000" stroke-width="1"/>
<line x1="409.9" y1="301.6" x2="412.4" y2="301.6" stroke="#000" stroke-width="1"/>
<line x1="409.9" y1="294.9" x2="412.4" y2="294.9" stroke="#000" stroke-width="1"/>
<line x1="409.9" y1="288.2" x2="412.4" y2="288.2" stroke="#000" stroke-width="1"/>
<line x1="409.9" y1="274.8" x2="412.4" y2="274.8" stroke="#000" stroke-width="1"/>
<line x1="409.9" y1="268.1" x2="412.4" y2="268.1" stroke="#000" stroke-width="1"/>
<line x1="409.9" y1="261.4" x2="412.4" y2="261.4" stroke="#000" stroke-width="1"/>
<line x1="409.9" y1="254.7" x2="412.4" y2="254.7" stroke="#000" stroke-width="1"/>
<line x1="409.9" y1="241.3" x2="412.4" y2="241.3" stroke="#000" stroke-width="1"/>
<line x1="409.9" y1="234.6" x2="412.4" y2="234.6" stroke="#000" stroke-width="1"/>
<line x1="409.9" y1="227.9" x2="412.4" y2="227.9" stroke="#000" stroke-width="1"/>
<line x1="409.9" y1="221.2" x2="412.4" y2="221.2" stroke="#000" stroke-width="1"/>
<line x1="429.1" y1="283.8" x2="429.1" y2="280.5" stroke="#000" stroke-width="1.4"/>
<line x1="423.15" y1="280.5" x2="435.05" y2="280.5" stroke="#000" stroke-width="1.4"/>
<rect x="418.95" y="284.4" width="20.3" height="30.6" fill="url(#dots)" stroke="#000" stroke-width="1.5"/>
<line x1="429.1" y1="315" x2="429.1" y2="318" stroke="#000" stroke-width="1.2"/>
<line x1="461.95" y1="245.7" x2="461.95" y2="237.3" stroke="#000" stroke-width="1.4"/>
<line x1="455.67" y1="237.3" x2="468.23" y2="237.3" stroke="#000" stroke-width="1.4"/>
<rect x="451.15" y="246.3" width="21.6" height="68.7" fill="#000" stroke="#000" stroke-width="1.5"/>
<line x1="461.95" y1="315" x2="461.95" y2="318" stroke="#000" stroke-width="1.2"/>
<line x1="494.9" y1="281" x2="494.9" y2="277.6" stroke="#000" stroke-width="1.4"/>
<line x1="488.7" y1="277.6" x2="501.1" y2="277.6" stroke="#000" stroke-width="1.4"/>
<rect x="484.25" y="281.6" width="21.3" height="33.4" fill="#a4a4a4" stroke="#000" stroke-width="1.5"/>
<line x1="494.9" y1="315" x2="494.9" y2="318" stroke="#000" stroke-width="1.2"/>
<text transform="translate(394.3,260.5) rotate(-90)" font-size="7.5" font-weight="bold" fill="#111" stroke="#111" stroke-width="0.15" text-anchor="middle">Median Fluorescence Intensity</text>
<text x="460" y="202.2" font-size="9.5" font-weight="bold" text-anchor="middle" fill="#111" stroke="#111" stroke-width="0.25">NKG2D (Day 3)</text>
<text transform="translate(431.3,326) rotate(-45)" font-size="7.5" font-weight="bold" fill="#111" stroke="#111" stroke-width="0.2" text-anchor="end">No IL-2</text>
<text transform="translate(464.15,326) rotate(-45)" font-size="7.5" font-weight="bold" fill="#111" stroke="#111" stroke-width="0.2" text-anchor="end">IL-2</text>
<text transform="translate(497.1,326) rotate(-45)" font-size="7.5" font-weight="bold" fill="#111" stroke="#111" stroke-width="0.2" text-anchor="end">IL-2+TGF-β1</text>
<line x1="426.2" y1="225.4" x2="456.6" y2="225.4" stroke="#222" stroke-width="1.2"/>
<line x1="426.2" y1="222.9" x2="426.2" y2="227.9" stroke="#222" stroke-width="1.1"/>
<line x1="456.6" y1="222.9" x2="456.6" y2="227.9" stroke="#222" stroke-width="1.1"/>
<circle cx="441.5" cy="222" r="1.2" fill="#1a1a1a"/>
<line x1="462.3" y1="220.5" x2="492.3" y2="220.5" stroke="#222" stroke-width="1.2"/>
<line x1="462.3" y1="218" x2="462.3" y2="223" stroke="#222" stroke-width="1.1"/>
<line x1="492.3" y1="218" x2="492.3" y2="223" stroke="#222" stroke-width="1.1"/>
<circle cx="474.2" cy="217.1" r="1.2" fill="#1a1a1a"/>
<circle cx="477.2" cy="217.1" r="1.2" fill="#1a1a1a"/>
<circle cx="480.2" cy="217.1" r="1.2" fill="#1a1a1a"/>
</g></svg></body></html>
